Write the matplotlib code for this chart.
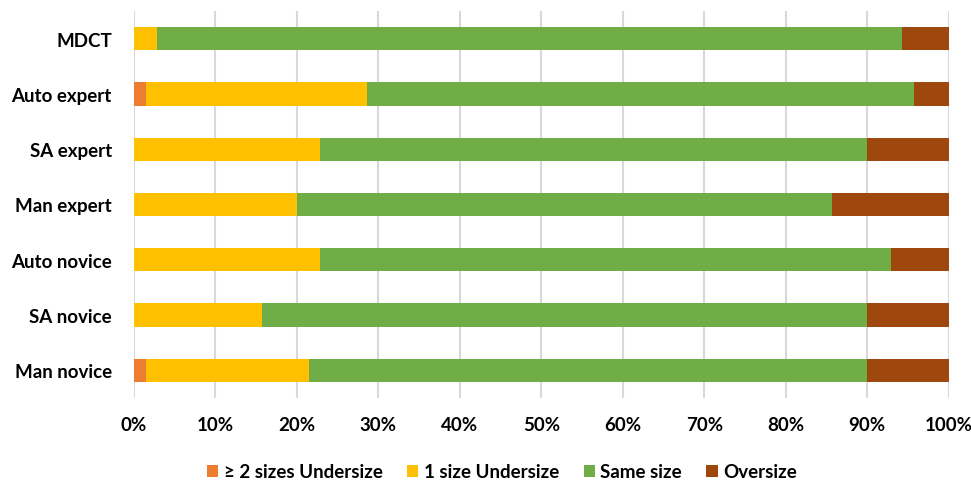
import numpy as np
import matplotlib
matplotlib.use('Agg')
import matplotlib.pyplot as plt
from matplotlib.ticker import PercentFormatter

plt.rcParams['font.family'] = ['Lato', 'DejaVu Sans']
plt.rcParams['font.weight'] = 'bold'

# patient counts per method (70 cases each), top row first
methods = ['MDCT', 'Auto expert', 'SA expert', 'Man expert',
           'Auto novice', 'SA novice', 'Man novice']
under2 = [0, 1, 0, 0, 0, 0, 1]
under1 = [2, 19, 16, 14, 16, 11, 14]
same = [64, 47, 47, 46, 49, 52, 48]
over = [4, 3, 7, 10, 5, 7, 7]
n_cases = 70

series = [
    ('\u2265 2 sizes Undersize', under2, '#ED7D31'),
    ('1 size Undersize', under1, '#FFC000'),
    ('Same size', same, '#70AD47'),
    ('Oversize', over, '#9E480E'),
]

fig = plt.figure(figsize=(9.71, 4.85), dpi=100)
ax = fig.add_axes([134 / 971, 1 - 399 / 485, (948.7 - 134) / 971, (399 - 12) / 485])

y = np.arange(len(methods))[::-1]
left = np.zeros(len(methods))
for label, counts, color in series:
    pct = np.array(counts) / n_cases * 100
    ax.barh(y, pct, left=left, height=0.42, color=color, label=label, zorder=3)
    left += pct

ax.set_xlim(0, 100)
ax.set_ylim(-0.5, len(methods) - 0.5)
ax.set_xticks(np.arange(0, 101, 10))
ax.xaxis.set_major_formatter(PercentFormatter(decimals=0))
ax.set_yticks(y)
ax.set_yticklabels(methods)
ax.grid(axis='x', color='#D9D9D9', linewidth=1.5, zorder=0)
for s in ax.spines.values():
    s.set_visible(False)
ax.tick_params(axis='both', length=0, labelsize=13.5)
ax.tick_params(axis='y', pad=16)
ax.tick_params(axis='x', pad=13)

fig.legend(loc='center', bbox_to_anchor=(502 / 971, 1 - 473 / 485), ncol=4,
           frameon=False, fontsize=13.5, handlelength=0.6, handleheight=0.6,
           handletextpad=0.3, columnspacing=1.3)

fig.savefig('out.png', dpi=100)
